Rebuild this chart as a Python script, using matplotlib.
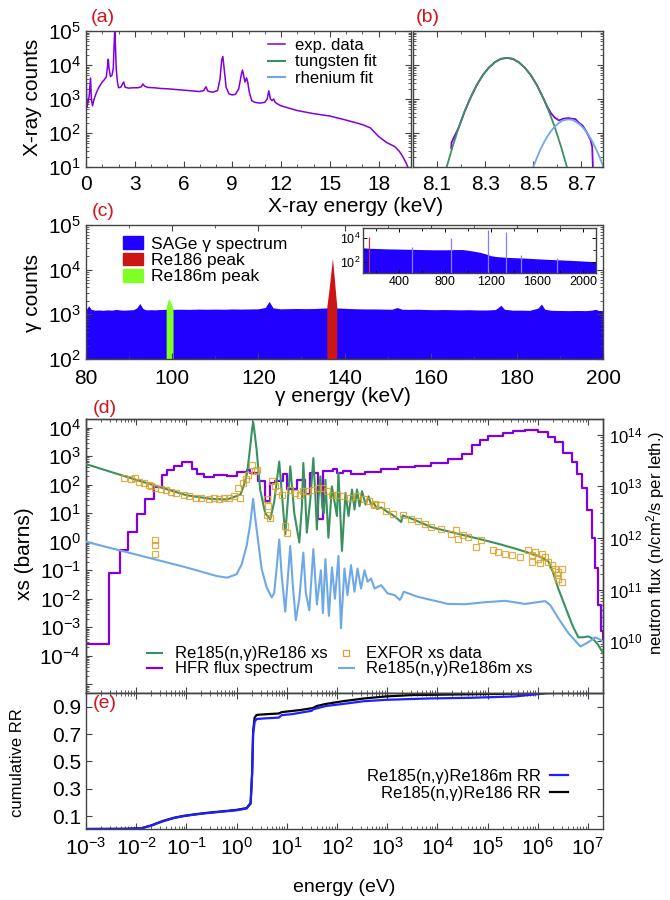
import numpy as np
import matplotlib
matplotlib.use('Agg')
import matplotlib.pyplot as plt
from matplotlib.patches import Patch
from matplotlib.lines import Line2D
from matplotlib.ticker import MultipleLocator, FixedLocator, LogLocator, NullFormatter, FuncFormatter

plt.rcParams['font.family'] = ['Liberation Sans', 'DejaVu Sans']
plt.rcParams['mathtext.fontset'] = 'custom'
plt.rcParams['mathtext.rm'] = 'Liberation Sans'
plt.rcParams['mathtext.it'] = 'Liberation Sans:italic'
plt.rcParams['axes.unicode_minus'] = False
plt.rcParams['xtick.direction'] = 'in'
plt.rcParams['ytick.direction'] = 'in'
plt.rcParams['xtick.top'] = True
plt.rcParams['ytick.right'] = True
plt.rcParams['axes.edgecolor'] = '#444444'
plt.rcParams['axes.linewidth'] = 1.0

# ---- (a) X-ray spectrum (keV, log10 counts)
xray_kev = [0.0, 0.05, 0.12, 0.2, 0.28, 0.33, 0.4, 0.5, 0.65, 0.8, 1.0, 1.15, 1.25, 1.32, 1.37,
            1.42, 1.5, 1.6, 1.68, 1.73, 1.77, 1.81, 1.86, 1.92, 2.0, 2.15, 2.25, 2.32, 2.4, 2.6,
            2.9, 3.2, 3.4, 3.5, 3.6, 3.8, 4.2, 4.6, 5.0, 5.5, 6.0, 6.5, 7.0, 7.25, 7.38, 7.5,
            7.8, 8.1, 8.25, 8.35, 8.42, 8.5, 8.62, 8.8, 9.0, 9.2, 9.4, 9.55, 9.63, 9.7, 9.78,
            9.88, 9.95, 10.05, 10.2, 10.4, 10.7, 11.0, 11.15, 11.25, 11.35, 11.45, 11.55, 11.65,
            11.8, 12.0, 13.0, 14.0, 15.0, 16.0, 17.0, 17.5, 18.0, 18.5, 19.0, 19.3, 19.5, 19.7, 19.8]
xray_log = [3.85, 2.75, 2.9, 3.1, 3.62, 3.0, 2.8, 3.0, 3.2, 3.35, 3.5, 3.58, 3.65, 3.95, 4.17,
            3.9, 3.66, 3.7, 3.9, 4.6, 5.02, 4.6, 3.9, 3.55, 3.33, 3.35, 3.45, 3.5, 3.35, 3.32,
            3.33, 3.33, 3.36, 3.44, 3.38, 3.34, 3.33, 3.31, 3.30, 3.28, 3.26, 3.24, 3.22, 3.25, 3.36, 3.23,
            3.2, 3.25, 3.6, 4.15, 4.25, 3.9, 3.35, 3.15, 3.12, 3.14, 3.3, 3.7, 3.85, 3.7, 3.5,
            3.62, 3.5, 3.2, 2.95, 2.9, 2.88, 2.9, 3.0, 3.24, 3.0, 2.95, 3.0, 2.9,
            2.85, 2.8, 2.66, 2.57, 2.5, 2.38, 2.25, 2.15, 1.9, 1.72, 1.6, 1.45, 1.3, 1.12, 1.0]

# ---- (b) zoom on the 8.4 keV line
b_kev = [8.159, 8.16, 8.19, 8.215, 8.24, 8.265, 8.29, 8.315, 8.34, 8.365, 8.39, 8.415, 8.44, 8.465,
         8.49, 8.515, 8.54, 8.56, 8.575, 8.59, 8.607, 8.625, 8.648, 8.66, 8.675, 8.69, 8.705, 8.72,
         8.738, 8.745, 8.748]
b_log = [1.55, 1.72, 2.16, 2.64, 3.05, 3.41, 3.70, 3.92, 4.08, 4.18, 4.21, 4.18, 4.08, 3.92,
         3.70, 3.41, 3.05, 2.75, 2.57, 2.45, 2.37, 2.42, 2.44, 2.42, 2.41, 2.3, 2.22, 2.05,
         1.8, 1.6, 1.0]
w_kev = [8.14, 8.165, 8.19, 8.215, 8.24, 8.265, 8.29, 8.315, 8.34, 8.365, 8.39, 8.415, 8.44, 8.465,
         8.49, 8.515, 8.54, 8.565, 8.59, 8.615, 8.64]
w_log = [1.0, 1.61, 2.16, 2.64, 3.05, 3.41, 3.70, 3.92, 4.08, 4.18, 4.21, 4.18, 4.08, 3.92,
         3.70, 3.41, 3.05, 2.64, 2.16, 1.61, 1.0]
re_kev = [8.50, 8.515, 8.53, 8.545, 8.56, 8.575, 8.59, 8.605, 8.62, 8.635, 8.65, 8.665, 8.68, 8.695,
          8.71, 8.725, 8.74, 8.755, 8.77, 8.785, 8.792]
re_log = [1.0, 1.27, 1.52, 1.73, 1.91, 2.07, 2.19, 2.29, 2.36, 2.39, 2.40, 2.38, 2.32, 2.24,
          2.13, 1.99, 1.82, 1.62, 1.39, 1.13, 1.0]

# ---- (c) gamma spectrum
sage_kev = [80, 80.6, 81.2, 82, 83, 84, 85, 86, 87, 88, 89, 90, 91, 91.8, 92.5, 93.2, 94, 95, 96, 97,
            98, 99, 100, 101, 102, 104, 106, 108, 110, 112, 114, 116, 118, 120, 121.6, 122.5, 123.4,
            125, 127, 129, 131, 133, 135, 137, 139, 141, 143, 145, 147, 149, 151, 152.2, 153.4, 155,
            157, 159, 161, 163, 165, 167, 169, 171, 173, 175, 175.6, 176.3, 177.1, 179, 181, 183,
            184.9, 185.7, 186.5, 188, 190, 192, 194, 196, 197.6, 198.2, 199, 200]
sage_counts = [1250, 1550, 1300, 1240, 1250, 1230, 1260, 1240, 1290, 1250, 1240, 1260, 1270, 1400,
               1750, 1350, 1260, 1270, 1260, 1280, 1290, 1300, 1290, 1300, 1300, 1290, 1310, 1300,
               1310, 1300, 1320, 1310, 1320, 1330, 1420, 1950, 1400, 1330, 1340, 1350, 1340, 1350,
               1380, 1400, 1380, 1350, 1330, 1320, 1320, 1310, 1300, 1420, 1300, 1290, 1300, 1280,
               1270, 1280, 1270, 1260, 1270, 1250, 1250, 1280, 1400, 1600, 1300, 1240, 1240, 1230,
               1380, 1700, 1300, 1230, 1220, 1210, 1220, 1210, 1250, 1300, 1220, 1210]
re186m_kev = [98.6, 98.9, 99.2, 99.6, 100.0, 100.2]
re186m_counts = [1400, 1900, 2250, 1900, 1500, 1350]
re186_kev = [135.9, 136.3, 136.8, 137.2, 137.6, 138.0, 138.2]
re186_counts = [1500, 3000, 8000, 18000, 7000, 2500, 1500]

wide_kev = [87, 100, 150, 200, 300, 400, 500, 600, 700, 800, 900, 950, 1000, 1050, 1100, 1150,
            1200, 1250, 1300, 1350, 1400, 1500, 1600, 1700, 1800, 1900, 2000, 2110]
wide_counts = [1600, 1500, 1400, 1350, 1250, 1200, 1150, 1100, 1050, 1050, 1100, 1100, 950, 800,
               650, 480, 330, 280, 260, 240, 230, 210, 185, 165, 150, 135, 120, 105]
spike_kev = [511, 846, 1173, 1332, 1460, 1770]
spike_counts = [1800, 1.0e4, 4.5e4, 3.5e4, 400, 220]

# ---- (d) cross sections (log10 E [eV], log10 xs [b]) and flux
xs186_logE = [-3.0, -2.0, -1.0, -0.5, -0.19, 0.0, 0.08, 0.15, 0.21, 0.27, 0.31, 0.33, 0.35, 0.4,
              0.47, 0.57, 0.67, 0.75, 0.85, 0.92, 0.97, 1.02, 1.07, 1.15, 1.25, 1.3, 1.33, 1.37,
              1.4, 1.47, 1.53, 1.57, 1.6, 1.63, 1.67, 1.71, 1.74, 1.77, 1.83, 1.9, 2.0, 2.03, 2.1,
              2.17, 2.23, 2.3, 2.35, 2.4, 2.45, 2.5, 2.57, 2.63, 2.68, 2.73, 2.8, 2.88, 3.01, 3.1,
              3.21, 3.28, 3.31, 3.5, 3.88, 4.2, 4.55, 4.9, 5.21, 5.55, 5.88, 6.05, 6.21, 6.3, 6.41,
              6.51, 6.61, 6.71, 6.81, 6.9, 7.01, 7.1, 7.2, 7.32]
xs186_log = [2.72, 2.17, 1.63, 1.5, 1.48, 1.6, 1.66, 2.0, 2.4, 3.3, 3.95, 4.2, 3.95, 3.22,
             1.82, 1.01, 0.78, 1.4, 2.81, 1.3, 0.26, 1.4, 2.64, 1.0, -0.03, 1.2, 2.76, 1.5,
             0.32, 1.5, 2.93, 1.6, 0.43, 1.5, 2.29, 1.2, 1.0, 2.17, 0.14, 1.94, 0.9, 2.41, -0.32,
             1.71, 0.9, 1.83, 1.13, 1.83, 1.24, 1.77, 1.3, 1.59, 1.3, 1.36, 1.15, 1.2, 1.04, 0.95,
             0.8, 0.69, 0.92, 0.8, 0.51, 0.37, 0.22, 0.07, -0.07, -0.24, -0.42, -0.53, -0.68, -1.05, -1.64,
             -2.1, -2.56, -3.0, -3.35, -3.35, -3.32, -3.4, -3.6, -3.96]
xs186m_logE = [-3.0, -2.0, -1.0, -0.4, -0.19, 0.0, 0.1, 0.2, 0.27, 0.31, 0.33, 0.36, 0.4, 0.5,
               0.6, 0.7, 0.75, 0.8, 0.85, 0.9, 0.97, 1.02, 1.07, 1.12, 1.18, 1.25, 1.33, 1.38,
               1.45, 1.53, 1.6, 1.68, 1.72, 1.77, 1.84, 1.9, 1.96, 2.03, 2.08, 2.15, 2.21, 2.28,
               2.35, 2.41, 2.48, 2.55, 2.61, 2.68, 2.75, 2.88, 3.01, 3.15, 3.25, 3.29, 3.33, 3.61,
               3.88, 4.21, 4.55, 4.95, 5.35, 5.75, 6.15, 6.25, 6.41, 6.61, 6.85, 6.98, 7.15, 7.25, 7.35]
xs186m_log = [0.0, -0.45, -0.9, -1.2, -1.26, -1.14, -0.8, -0.15, 0.6, 1.2, 1.5, 1.0, 0.43, -0.96,
              -1.6, -1.95, -1.8, -0.9, 0.08, -1.2, -2.45, -1.3, -0.15, -1.5, -2.75, -2.0, -0.38, -1.8,
              -2.4, -0.26, -2.2, -1.0, -2.5, -0.61, -2.6, -0.9, -2.0, -0.5, -3.03, -0.94, -1.87, -0.82,
              -1.75, -0.94, -1.64, -1.0, -1.4, -1.29, -1.64, -1.52, -1.81, -1.87, -2.04, -1.93, -1.75, -1.93,
              -2.04, -2.18, -2.19, -2.12, -2.07, -2.18, -2.08, -2.22, -2.68, -3.2, -3.67, -3.55, -3.35, -3.44, -3.55]
flux_logE = [-3.0, -2.55, -2.32, -2.17, -1.99, -1.82, -1.65, -1.49, -1.39, -1.25, -1.09, -0.89, -0.79,
             -0.64, -0.45, -0.19, 0.01, 0.21, 0.27, 0.43, 0.57, 0.67, 0.77, 0.93, 1.0, 1.2, 1.37, 1.47,
             1.63, 1.72, 1.93, 2.0, 2.13, 2.28, 2.55, 2.88, 3.21, 3.55, 3.88, 4.21, 4.5, 4.7, 4.85, 5.0,
             5.3, 5.5, 5.75, 6.0, 6.2, 6.35, 6.5, 6.68, 6.78, 6.88, 6.98, 7.08, 7.15, 7.21, 7.26, 7.31]
flux_log = [9.94, 11.32, 11.77, 12.12, 12.47, 12.76, 12.99, 13.21, 13.31, 13.40, 13.47, 13.34, 13.24,
            13.18, 13.21, 13.2, 13.28, 13.31, 13.26, 13.10, 12.72, 13.07, 13.10, 13.23, 12.94, 13.13, 12.85, 13.26,
            12.36, 13.29, 13.33, 13.26, 13.29, 13.24, 13.28, 13.34, 13.37, 13.40, 13.45, 13.52, 13.62, 13.8, 13.9, 13.98,
            14.03, 14.07, 14.08, 14.05, 13.95, 13.85, 13.65, 13.47, 13.24, 12.96, 12.54, 11.99, 11.42, 10.71, 10.2, 10.0]
exfor_logE = [-2.25, -2.1, -2.02, -1.95, -1.85, -1.75, -1.7, -1.62, -1.5, -1.4, -1.3, -1.2, -1.05, -0.95,
              -0.8, -0.7, -0.55, -0.45, -0.35, -0.25, -0.15, -0.05, 0.03, 0.07, 0.13, 0.18, 0.22, 0.3,
              0.37, 0.4, 0.6, 0.6, 0.63, 0.67, 0.7, 0.77, 0.83, 0.9, 0.97, 1.0, 1.07, 1.17, 1.27, 1.33,
              1.43, 1.53, 1.63, 1.73, 1.8, 1.9, 2.0, 2.13, 2.27, 2.4, 2.53, 2.63, 2.73, 2.75, 2.88, 2.98,
              3.11, 3.31, 3.48, 3.61, 3.75, 3.88, 4.08, 4.28, 4.38, 4.41, 4.51, 4.61, 4.78, 4.88, 5.11,
              5.21, 5.35, 5.48, 5.65, 5.81, 5.88, 5.88, 5.95, 6.01, 6.05, 6.08, 6.15, 6.21, 6.28, 6.35,
              6.38, 6.41, 6.41, 6.48, 6.48, -1.62, -1.62, -1.62]
exfor_log = [2.25, 2.2, 2.25, 2.1, 2.05, 2.0, 1.95, 1.9, 1.85, 1.8, 1.75, 1.7, 1.65, 1.6,
             1.55, 1.52, 1.5, 1.52, 1.5, 1.52, 1.55, 1.6, 1.88, 1.54, 2.06, 2.2, 2.35, 2.7,
             2.47, 2.52, 1.48, 0.95, 1.25, 0.84, 2.12, 1.94, 1.77, 1.65, 0.55, 0.32, 1.83, 1.71, 1.65, 1.77,
             1.77, 1.83, 1.88, 1.88, 1.77, 1.65, 1.65, 1.59, 1.54, 1.59, 1.48, 1.42, 1.3, 1.33, 1.27, 1.09,
             0.98, 0.92, 0.8, 0.74, 0.63, 0.51, 0.45, 0.28, 0.4, 0.11, 0.22, 0.16, -0.18, 0.05, -0.3,
             -0.36, -0.42, -0.47, -0.53, -0.3, -0.47, -0.71, -0.36, -0.59, -0.76, -0.42, -0.53, -0.71, -0.82, -0.94,
             -1.17, -1.06, -1.29, -0.94, -1.4, 0.05, -0.1, -0.43]

# ---- (e) cumulative reaction rates
rr_m_logE = [-3.0, -2.2, -1.9, -1.7, -1.48, -1.25, -1.04, -0.8, -0.62, -0.4, -0.2, 0.0, 0.2, 0.28,
             0.31, 0.33, 0.36, 0.4, 0.6, 0.84, 0.9, 1.1, 1.26, 1.5, 1.52, 1.78, 2.12, 2.54, 2.98,
             3.82, 4.68, 5.54, 5.96, 6.2, 7.32]
rr_m = [0.005, 0.006, 0.01, 0.03, 0.06, 0.085, 0.10, 0.112, 0.12, 0.128, 0.135, 0.142, 0.155, 0.19,
        0.4, 0.7, 0.79, 0.81, 0.815, 0.82, 0.838, 0.845, 0.855, 0.87, 0.88, 0.905, 0.92, 0.94, 0.95,
        0.96, 0.965, 0.975, 0.99, 1.0, 1.0]
rr_logE = [-3.0, -2.2, -1.9, -1.7, -1.48, -1.25, -1.04, -0.8, -0.62, -0.4, -0.2, 0.0, 0.2, 0.28,
           0.31, 0.33, 0.36, 0.4, 0.6, 0.84, 0.9, 1.26, 1.52, 1.6, 1.78, 2.12, 2.54, 2.98, 3.5,
           4.5, 5.5, 6.2, 7.32]
rr = [0.005, 0.006, 0.01, 0.031, 0.062, 0.087, 0.102, 0.114, 0.122, 0.13, 0.137, 0.145, 0.158, 0.195,
      0.42, 0.72, 0.82, 0.84, 0.845, 0.85, 0.86, 0.875, 0.89, 0.905, 0.92, 0.94, 0.96, 0.975, 0.985,
      0.99, 0.995, 1.0, 1.0]

purple = '#8000e0'
green = '#3a9160'
lblue = '#6fa8e6'
red_lab = '#d4141c'
W, H = 670, 900


def box(x0, y0, x1, y1):
    return [x0 / W, 1 - y1 / H, (x1 - x0) / W, (y1 - y0) / H]


def pow10(v, pos):
    return r'$10^{%d}$' % int(round(np.log10(v)))


def logy(ax, lo, hi, size):
    ax.set_yscale('log')
    ax.yaxis.set_major_locator(FixedLocator([10.0 ** k for k in range(lo, hi + 1)]))
    ax.yaxis.set_major_formatter(FuncFormatter(pow10))
    ax.yaxis.set_minor_locator(LogLocator(subs=np.arange(2, 10), numticks=30))
    ax.yaxis.set_minor_formatter(NullFormatter())
    ax.tick_params(axis='y', labelsize=size)


def ticks(ax):
    ax.tick_params(which='major', length=4.5, width=0.8, color='#444444')
    ax.tick_params(which='minor', length=2.3, width=0.6, color='#444444')


fig = plt.figure(figsize=(6.7, 9), dpi=100)

# (a)
ax_a = fig.add_axes(box(86, 31, 411, 167))
ax_a.plot(xray_kev, 10 ** np.array(xray_log), color=purple, lw=1.1, label='exp. data')
ax_a.plot([], [], color=green, lw=1.5, label='tungsten fit')
ax_a.plot([], [], color=lblue, lw=1.5, label='rhenium fit')
ax_a.set_xlim(0, 20)
logy(ax_a, 1, 5, 15)
ax_a.set_ylim(10, 1e5)
ax_a.xaxis.set_major_locator(MultipleLocator(3))
ax_a.xaxis.set_minor_locator(MultipleLocator(1))
ax_a.tick_params(axis='x', labelsize=15, pad=6)
ticks(ax_a)
ax_a.legend(loc='upper left', bbox_to_anchor=(0.56, 0.95), frameon=False, fontsize=12,
            handlelength=1.0, handletextpad=0.6, labelspacing=0.1, borderpad=0, borderaxespad=0)

# (b)
ax_b = fig.add_axes(box(413, 31, 603, 167))
ax_b.plot(b_kev, 10 ** np.array(b_log), color=purple, lw=1.3)
ax_b.plot(w_kev, 10 ** np.array(w_log), color=green, lw=1.3)
ax_b.plot(re_kev, 10 ** np.array(re_log), color=lblue, lw=1.3)
ax_b.set_xlim(8.0, 8.79)
logy(ax_b, 1, 5, 15)
ax_b.set_ylim(10, 1e5)
ax_b.set_yticklabels([])
ax_b.xaxis.set_major_locator(FixedLocator([8.1, 8.3, 8.5, 8.7]))
ax_b.xaxis.set_minor_locator(FixedLocator([8.2, 8.4, 8.6]))
ax_b.tick_params(axis='x', labelsize=15, pad=6)
ticks(ax_b)

fig.text(356 / W, 1 - 206 / H, 'X-ray energy (keV)', fontsize=15, ha='center', va='center')
fig.text(33 / W, 1 - 97 / H, 'X-ray counts', fontsize=15, ha='center', va='center', rotation=90)

# (c)
blue_fill = '#2000ff'
ax_c = fig.add_axes(box(86, 225, 603, 359))
ax_c.fill_between(sage_kev, 1e2, sage_counts, color=blue_fill, lw=0)
ax_c.fill_between(re186m_kev, 1e2, re186m_counts, color='#80ff22', lw=0)
ax_c.fill_between(re186_kev, 1e2, re186_counts, color='#cc1616', lw=0)
ax_c.set_xlim(80, 200)
logy(ax_c, 2, 5, 15)
ax_c.set_ylim(1e2, 1e5)
ax_c.xaxis.set_major_locator(MultipleLocator(20))
ax_c.xaxis.set_minor_locator(MultipleLocator(10))
ax_c.tick_params(axis='x', labelsize=15, pad=7)
ticks(ax_c)
c_handles = [Patch(color=blue_fill, label='SAGe γ spectrum'),
             Patch(color='#cc1616', label='Re186 peak'),
             Patch(color='#80ff22', label='Re186m peak')]
ax_c.legend(handles=c_handles, loc='upper left', bbox_to_anchor=(0.072, 0.915), frameon=False,
            fontsize=12.5, handlelength=1.15, handleheight=0.75, handletextpad=0.45,
            labelspacing=0.05, borderpad=0, borderaxespad=0)
fig.text(343 / W, 1 - 397 / H, 'γ energy (keV)', fontsize=15, ha='center', va='center')
fig.text(33 / W, 1 - 293 / H, 'γ counts', fontsize=15, ha='center', va='center', rotation=90)

# inset
ax_i = fig.add_axes(box(363, 228, 596, 273))
ax_i.fill_between(wide_kev, 10, wide_counts, color=blue_fill, lw=0)
ax_i.vlines(spike_kev, 10, spike_counts, color='#8080ff', lw=0.9)
ax_i.vlines([137], 10, [1.3e4], color='#c03050', lw=0.9)
ax_i.set_xlim(85, 2110)
ax_i.set_yscale('log')
ax_i.set_ylim(12, 7e4)
ax_i.yaxis.set_major_locator(FixedLocator([1e2, 1e4]))
ax_i.yaxis.set_major_formatter(FuncFormatter(pow10))
ax_i.yaxis.set_minor_locator(FixedLocator([1e1, 1e3]))
ax_i.yaxis.set_minor_formatter(NullFormatter())
ax_i.xaxis.set_major_locator(FixedLocator([400, 800, 1200, 1600, 2000]))
ax_i.xaxis.set_minor_locator(FixedLocator([200, 600, 1000, 1400, 1800]))
ax_i.tick_params(labelsize=9, pad=2)
ax_i.tick_params(which='major', length=3, width=0.7)
ax_i.tick_params(which='minor', length=2, width=0.6)

# (d)
ax_d = fig.add_axes(box(86, 419, 603, 693))
ax_d.plot(10 ** np.array(xs186_logE), 10 ** np.array(xs186_log), color=green, lw=1.5, zorder=3)
ax_d.plot(10 ** np.array(xs186m_logE), 10 ** np.array(xs186m_log), color=lblue, lw=1.5, zorder=3)
ax_d.plot(10 ** np.array(exfor_logE), 10 ** np.array(exfor_log), ls='none', marker='s', ms=5,
          mfc='none', mec='#d9a22a', mew=0.9, alpha=0.85, zorder=4)
ax_d.set_xscale('log')
ax_d.set_xlim(1e-3, 2e7)
ax_d.set_yscale('log')
ax_d.set_ylim(5e-6, 2e4)
ax_d.yaxis.set_major_locator(FixedLocator([10.0 ** k for k in range(-5, 5)]))
ax_d.yaxis.set_major_formatter(FuncFormatter(lambda v, p: '' if v < 5e-5 else pow10(v, p)))
ax_d.yaxis.set_minor_locator(LogLocator(subs=np.arange(2, 10), numticks=30))
ax_d.yaxis.set_minor_formatter(NullFormatter())
ax_d.tick_params(axis='y', labelsize=15, right=False)
ax_d.xaxis.set_major_locator(FixedLocator([10.0 ** k for k in range(-3, 8)]))
ax_d.xaxis.set_minor_locator(LogLocator(subs=np.arange(2, 10), numticks=30))
ax_d.xaxis.set_minor_formatter(NullFormatter())
ax_d.set_xticklabels([])
ticks(ax_d)

ax_f = ax_d.twinx()
ax_f.plot(10 ** np.array(flux_logE), 10 ** np.array(flux_log), color=purple, lw=1.6,
          drawstyle='steps-post', zorder=2)
ax_f.set_yscale('log')
ax_f.set_ylim(1e9, 2e14)
ax_f.yaxis.set_major_locator(FixedLocator([10.0 ** k for k in range(10, 15)]))
ax_f.yaxis.set_major_formatter(FuncFormatter(pow10))
ax_f.yaxis.set_minor_locator(LogLocator(subs=np.arange(2, 10), numticks=30))
ax_f.yaxis.set_minor_formatter(NullFormatter())
ax_f.tick_params(axis='y', labelsize=12, pad=4)
ticks(ax_f)
ax_d.set_zorder(ax_f.get_zorder() + 1)
ax_d.patch.set_visible(False)

d_handles = [Line2D([], [], color=green, lw=1.5),
             Line2D([], [], color=purple, lw=1.6),
             Line2D([], [], ls='none', marker='s', ms=5, mfc='none', mec='#d9a22a', mew=0.9),
             Line2D([], [], color=lblue, lw=1.5)]
d_labels = ['Re185(n,γ)Re186 xs', 'HFR flux spectrum', 'EXFOR xs data', 'Re185(n,γ)Re186m xs']
ax_d.legend(d_handles, d_labels, ncol=2, loc='upper left', bbox_to_anchor=(0.118, 0.17),
            frameon=False, fontsize=12, handlelength=0.9, handletextpad=0.75, labelspacing=0.0,
            columnspacing=0.7, borderpad=0, borderaxespad=0)
fig.text(25 / W, 1 - 554 / H, 'xs (barns)', fontsize=15, ha='center', va='center', rotation=90)
fig.text(656 / W, 1 - 543 / H, 'neutron flux (n/cm$^2$/s per leth.)', fontsize=12,
         ha='center', va='center', rotation=90)

# (e)
ax_e = fig.add_axes(box(86, 693, 603, 829))
ax_e.plot(10 ** np.array(rr_logE), rr, color='black', lw=1.6, label='Re185(n,γ)Re186 RR')
ax_e.plot(10 ** np.array(rr_m_logE), rr_m, color='#2020ff', lw=1.6, label='Re185(n,γ)Re186m RR')
ax_e.set_xscale('log')
ax_e.set_xlim(1e-3, 2e7)
ax_e.set_ylim(0.005, 1.0)
ax_e.yaxis.set_major_locator(FixedLocator([0.1, 0.3, 0.5, 0.7, 0.9]))
ax_e.xaxis.set_major_locator(FixedLocator([10.0 ** k for k in range(-3, 8)]))
ax_e.xaxis.set_major_formatter(FuncFormatter(pow10))
ax_e.xaxis.set_minor_locator(LogLocator(subs=np.arange(2, 10), numticks=30))
ax_e.xaxis.set_minor_formatter(NullFormatter())
ax_e.tick_params(labelsize=15)
ax_e.tick_params(axis='x', pad=6)
ticks(ax_e)
h, l = ax_e.get_legend_handles_labels()
ax_e.legend(h[::-1], l[::-1], loc='upper right', bbox_to_anchor=(0.932, 0.44), frameon=False,
            fontsize=12, markerfirst=False, handlelength=1.1, handletextpad=0.5,
            labelspacing=0.1, borderpad=0, borderaxespad=0)
fig.text(18 / W, 1 - 763 / H, 'cumulative RR', fontsize=12, ha='center', va='center', rotation=90)
fig.text(344 / W, 1 - 887 / H, 'energy (eV)', fontsize=14, ha='center', va='center')

# panel tags
for tag, x, y in [('(a)', 103, 18), ('(b)', 428, 18), ('(c)', 103, 211), ('(d)', 105, 408), ('(e)', 105, 703)]:
    fig.text(x / W, 1 - y / H, tag, fontsize=14, color=red_lab, ha='center', va='center')

fig.savefig('out.png', dpi=100)
